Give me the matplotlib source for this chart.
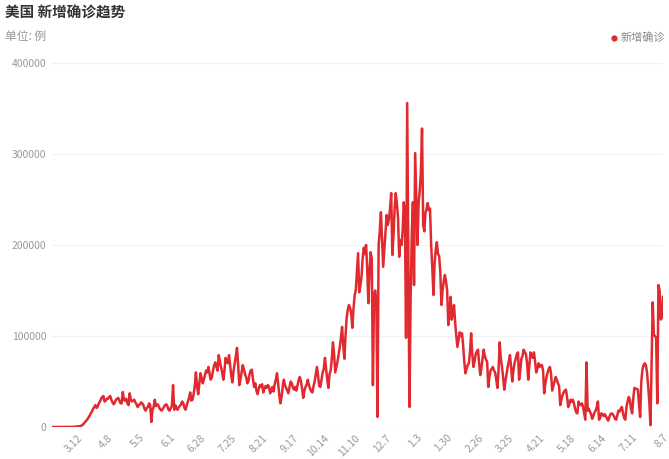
import numpy as np
import pandas as pd
import matplotlib
matplotlib.use("Agg")
import matplotlib.pyplot as plt

plt.rcParams['font.family'] = ['Noto Sans CJK SC', 'DejaVu Sans']

title = "美国 新增确诊趋势"
unit_label = "单位: 例"
series_name = "新增确诊"
start_date = "2020-02-19"

# daily new confirmed cases, one row per week
new_cases = [
    0, 0, 1, 0, 0, 0, 1,
    1, 2, 4, 8, 10, 20, 25,
    30, 60, 70, 100, 130, 180, 300,
    400, 500, 900, 700, 1100, 1700, 2500,
    4000, 5500, 7000, 8500, 10500, 12500, 15000,
    17000, 20000, 22000, 24000, 21000, 22500, 26000,
    28000, 31000, 33000, 34000, 28000, 29000, 31000,
    31000, 33000, 34000, 30000, 27000, 25000, 27000,
    30000, 31000, 32000, 29000, 26000, 26000, 38500,
    30000, 29000, 31000, 26000, 24000, 37000, 30000,
    28000, 29000, 30000, 27000, 25000, 22000, 24000,
    25000, 27000, 26000, 24000, 20000, 18000, 21000,
    22000, 26000, 24000, 5500, 19000, 22000, 30000,
    23000, 25000, 24000, 21000, 19000, 18000, 20000,
    22000, 24000, 25000, 23000, 19000, 18000, 21000,
    23000, 46000, 19000, 24000, 20000, 19000, 22000,
    23000, 25000, 28000, 26000, 21000, 19000, 24000,
    28000, 32000, 38000, 29000, 30000, 36000, 45000,
    60000, 45000, 36000, 48000, 59000, 54000, 48000,
    52000, 58000, 62000, 60000, 66000, 58000, 52000,
    55000, 62000, 68000, 71000, 66000, 62000, 79000,
    72000, 66000, 60000, 52000, 62000, 76000, 72000,
    70000, 79000, 68000, 56000, 49000, 62000, 70000,
    78000, 87000, 68000, 46000, 52000, 60000, 68000,
    64000, 58000, 55000, 48000, 50000, 58000, 62000,
    63000, 52000, 44000, 48000, 40000, 36000, 42000,
    46000, 44000, 47000, 38000, 42000, 45000, 43000,
    46000, 44000, 37000, 40000, 44000, 39000, 47000,
    52000, 59000, 48000, 35000, 26000, 33000, 44000,
    52000, 46000, 43000, 40000, 37000, 44000, 50000,
    48000, 43000, 41000, 44000, 40000, 46000, 52000,
    55000, 50000, 42000, 32000, 40000, 44000, 47000,
    52000, 46000, 42000, 39000, 38000, 45000, 50000,
    58000, 66000, 56000, 45000, 44000, 52000, 60000,
    64000, 76000, 64000, 52000, 43000, 58000, 62000,
    75000, 93000, 80000, 60000, 66000, 72000, 80000,
    88000, 98000, 110000, 90000, 75000, 100000, 120000,
    129000, 134000, 131000, 125000, 109000, 130000, 145000,
    150000, 170000, 191000, 148000, 155000, 165000, 185000,
    197000, 190000, 200000, 175000, 136000, 170000, 192000,
    185000, 46000, 145000, 150000, 138000, 11000, 200000,
    215000, 236000, 205000, 176000, 195000, 215000, 233000,
    222000, 228000, 240000, 257000, 189000, 210000, 240000,
    257000, 245000, 230000, 187000, 205000, 200000, 215000,
    247000, 232000, 98000, 356000, 190000, 22000, 140000,
    210000, 247000, 156000, 301000, 250000, 200000, 246000,
    260000, 280000, 328000, 222000, 215000, 235000, 240000,
    246000, 238000, 240000, 200000, 175000, 145000, 180000,
    195000, 203000, 190000, 188000, 170000, 134000, 150000,
    160000, 167000, 160000, 150000, 112000, 125000, 143000,
    118000, 125000, 134000, 115000, 100000, 88000, 96000,
    104000, 100000, 103000, 90000, 72000, 59000, 64000,
    68000, 70000, 82000, 103000, 80000, 66000, 72000,
    80000, 83000, 85000, 70000, 57000, 65000, 75000,
    85000, 78000, 74000, 72000, 44000, 55000, 62000,
    64000, 66000, 62000, 60000, 52000, 43000, 62000,
    93000, 75000, 66000, 55000, 41000, 50000, 58000,
    66000, 72000, 79000, 66000, 50000, 62000, 70000,
    75000, 80000, 82000, 52000, 62000, 75000, 78000,
    85000, 82000, 80000, 70000, 52000, 68000, 82000,
    78000, 76000, 82000, 72000, 60000, 64000, 70000,
    66000, 68000, 68000, 62000, 37000, 48000, 55000,
    60000, 64000, 66000, 58000, 40000, 45000, 50000,
    55000, 52000, 48000, 45000, 24000, 30000, 35000,
    38000, 40000, 41000, 33000, 22000, 25000, 30000,
    28000, 30000, 26000, 20000, 16000, 15000, 28000,
    25000, 24000, 26000, 22000, 15000, 8000, 71000,
    18000, 20000, 17000, 14000, 9000, 12000, 16000,
    18000, 22000, 28000, 8000, 10000, 15000, 14000,
    12000, 14000, 12000, 9000, 7000, 11000, 14000,
    15000, 14000, 12000, 9000, 8000, 13000, 18000,
    17000, 20000, 22000, 15000, 10000, 8000, 22000,
    28000, 33000, 30000, 20000, 15000, 32000, 43000,
    42000, 42000, 41000, 25000, 11000, 50000, 63000,
    68000, 70000, 68000, 60000, 45000, 28000, 2000,
    70000, 137000, 101000, 100000, 98000, 26000, 156000,
    150000, 118000, 120000, 143000,
]

y_ticks = [0, 100000, 200000, 300000, 400000]

dates = pd.date_range(start_date, periods=len(new_cases), freq="D")
categories = [f"{d.month}.{d.day}" for d in dates]
x = np.arange(len(new_cases))
tick_idx = np.arange(22, len(new_cases), 27)

W, H = 669, 459
fig = plt.figure(figsize=(W / 100, H / 100), dpi=100)
fig.patch.set_facecolor("white")
ax = fig.add_axes([52 / W, 32 / H, (663 - 52) / W, (427 - 63) / H])

line_color = "#e02a30"
ax.plot(x, new_cases, color=line_color, lw=1.8, solid_joinstyle="round", zorder=3)

ax.set_xlim(0, len(new_cases) - 1)
ax.set_ylim(0, 400000)
ax.set_yticks(y_ticks)
ax.set_yticklabels([str(v) for v in y_ticks])
ax.set_xticks(tick_idx)
ax.set_xticklabels([categories[i] for i in tick_idx], rotation=45, ha="right",
                   va="top", rotation_mode="anchor")
for s in ax.spines.values():
    s.set_visible(False)
ax.tick_params(axis="both", length=0, colors="#999999", labelsize=7.5)
ax.tick_params(axis="y", pad=4)
ax.tick_params(axis="x", pad=4)
ax.grid(axis="y", color="#f2f2f2", lw=0.8, zorder=0)
ax.set_axisbelow(True)

fig.text(5 / W, 1 - 13 / H, title, fontsize=10.5, fontweight="bold",
         color="#333333", va="center", ha="left")
fig.text(5 / W, 1 - 36 / H, unit_label, fontsize=8.5, color="#999999",
         va="center", ha="left")
fig.lines.append(plt.Line2D([614 / W], [1 - 38 / H], marker="o", ms=3.5,
                            color=line_color, transform=fig.transFigure))
fig.text(621 / W, 1 - 38 / H, series_name, fontsize=8, color="#888888",
         va="center", ha="left")

fig.savefig("out.png", dpi=100, facecolor="white")
